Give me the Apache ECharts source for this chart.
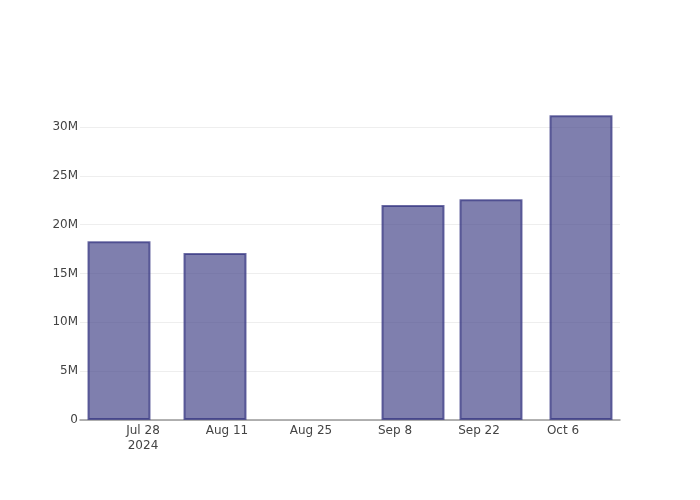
<!DOCTYPE html>
<html><head><meta charset="utf-8">
<script src="https://cdn.jsdelivr.net/npm/echarts@6/dist/echarts.min.js"></script>
<style>html,body{margin:0;padding:0;background:#fff}#c{width:700px;height:500px}</style>
</head><body><div id="c"></div>
<script>
var dates = ['2024-07-24','2024-08-09','2024-09-11','2024-09-24','2024-10-09'];
var values = [18.3e6, 17.1e6, 22.0e6, 22.6e6, 31.2e6];
var xTicks = ['2024-07-28','2024-08-11','2024-08-25','2024-09-08','2024-09-22','2024-10-06'];
var yTicks = [0, 5e6, 10e6, 15e6, 20e6, 25e6, 30e6];
var xRange = ['2024-07-17T12:00:00Z','2024-10-15T12:00:00Z'];

function ts(s){ return s.length===10 ? Date.parse(s+'T00:00:00Z') : Date.parse(s); }
var months = ['Jan','Feb','Mar','Apr','May','Jun','Jul','Aug','Sep','Oct','Nov','Dec'];
var tickTs = xTicks.map(ts);
var font = '"DejaVu Sans", sans-serif';
var yMax = 32.76e6;

var chart = echarts.init(document.getElementById('c'), null, {renderer:'canvas'});
chart.setOption({
  animation:false,
  grid:{left:80,right:80,top:100,bottom:80},
  xAxis:{
    type:'value', min:ts(xRange[0]), max:ts(xRange[1]),
    axisLine:{show:true, lineStyle:{color:'#999', width:1.5}},
    axisTick:{show:false},
    splitLine:{show:false},
    axisLabel:{
      customValues: tickTs,
      margin:3, color:'#444', fontSize:12, fontFamily:font, lineHeight:15,
      formatter:function(v){
        var d = new Date(v);
        var s = months[d.getUTCMonth()]+' '+d.getUTCDate();
        if (Math.abs(v - tickTs[0]) < 1000) s += '\n'+d.getUTCFullYear();
        return s;
      }
    }
  },
  yAxis:{
    type:'value', min:0, max:yMax, interval:5e6,
    axisLine:{show:false}, axisTick:{show:false},
    splitLine:{show:true, showMaxLine:false, lineStyle:{color:'#eee', width:1}},
    axisLabel:{
      customValues: yTicks,
      margin:2, color:'#444', fontSize:12, fontFamily:font, padding:[2,0,0,0],
      formatter:function(v){ return v===0 ? '0' : (v/1e6)+'M'; }
    }
  },
  series:[{
    type:'bar',
    barWidth:63,
    data: dates.map(function(d,i){ return [ts(d), values[i]]; }),
    itemStyle:{color:'rgb(72,72,140)', borderColor:'rgb(45,45,125)', borderWidth:2, opacity:0.7}
  }]
});
</script></body></html>
